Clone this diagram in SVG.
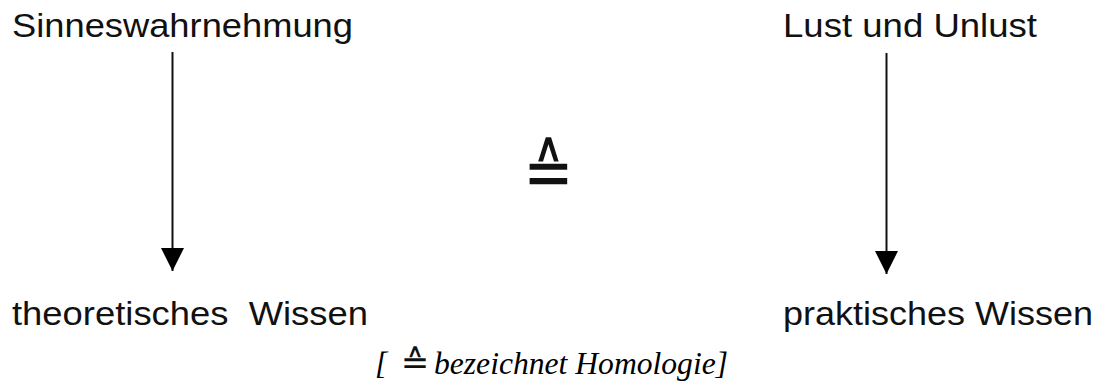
<svg xmlns="http://www.w3.org/2000/svg" width="1102" height="381" viewBox="0 0 1102 381">
  <style>
    .lbl { font-family: "Liberation Sans", Arial, sans-serif; font-size: 34px; fill: #111; }
    .cap { font-family: "Liberation Serif", "Times New Roman", serif; font-style: italic; font-size: 31.5px; fill: #000; }
    .sym { font-family: "DejaVu Sans", sans-serif; fill: #111; }
    .conn { stroke: #111; stroke-width: 2; fill: none; }
  </style>
  <defs>
    <marker id="arrow" markerUnits="userSpaceOnUse" markerWidth="23" markerHeight="23" viewBox="0 0 23 23" refX="23" refY="11.5" orient="auto">
      <path d="M0,0 L23,11.5 L0,23 Z" fill="#000"/>
    </marker>
  </defs>
  <rect width="1102" height="381" fill="#fff"/>
  <g id="connectors">
    <line class="conn" x1="172.5" y1="52" x2="172.5" y2="271" marker-end="url(#arrow)"/>
    <line class="conn" x1="886.5" y1="53" x2="886.5" y2="274" marker-end="url(#arrow)"/>
  </g>
  <g id="node-sinneswahrnehmung">
    <text class="lbl" x="12" y="37" textLength="341" lengthAdjust="spacingAndGlyphs">Sinneswahrnehmung</text>
  </g>
  <g id="node-lust">
    <text class="lbl" x="783" y="37" textLength="254" lengthAdjust="spacingAndGlyphs">Lust und Unlust</text>
  </g>
  <g id="node-theoretisch">
    <text class="lbl" x="12" y="325" xml:space="preserve" textLength="356" lengthAdjust="spacingAndGlyphs">theoretisches  Wissen</text>
  </g>
  <g id="node-praktisch">
    <text class="lbl" x="783" y="325" textLength="310" lengthAdjust="spacingAndGlyphs">praktisches Wissen</text>
  </g>
  <g id="node-homologie">
    <text class="sym" x="0" y="0" font-size="60" text-anchor="middle" transform="translate(548.5,196.8) scale(1,1.23)">≙</text>
  </g>
  <g id="caption">
    <text class="cap" x="375" y="374">[</text>
    <text class="sym" x="415" y="374" font-size="34" text-anchor="middle" fill="#444">≙</text>
    <text class="cap" x="434" y="374" textLength="294" lengthAdjust="spacingAndGlyphs">bezeichnet Homologie]</text>
  </g>
</svg>
